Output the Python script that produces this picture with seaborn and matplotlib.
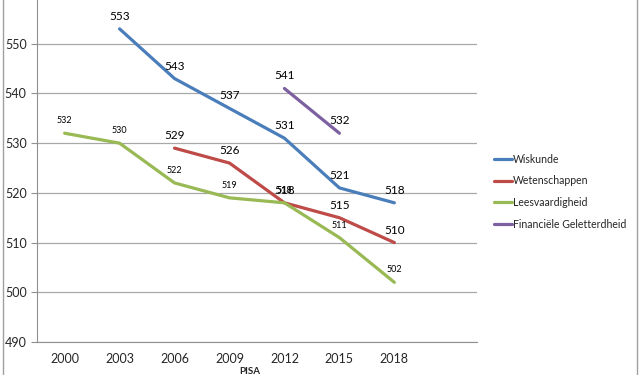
import pandas as pd
import matplotlib.pyplot as plt
import seaborn as sns
from matplotlib.patches import Rectangle

# PISA scores per domain (None = not measured)
years = ['2000', '2003', '2006', '2009', '2012', '2015', '2018']
wiskunde = [None, 553, 543, 537, 531, 521, 518]
wetenschappen = [None, None, 529, 526, 518, 515, 510]
leesvaardigheid = [532, 530, 522, 519, 518, 511, 502]
financieel = [None, None, None, None, 541, 532, None]

series = {
    'Wiskunde': wiskunde,
    'Wetenschappen': wetenschappen,
    'Leesvaardigheid': leesvaardigheid,
    'Financiële Geletterdheid': financieel,
}
colors = {
    'Wiskunde': '#4A7EBB',
    'Wetenschappen': '#BE4B48',
    'Leesvaardigheid': '#98B954',
    'Financiële Geletterdheid': '#7D60A0',
}
label_size = {'Wiskunde': 8.5, 'Wetenschappen': 8.5,
              'Leesvaardigheid': 6.5, 'Financiële Geletterdheid': 8.5}

rows = []
for name, vals in series.items():
    for i, v in enumerate(vals):
        if v is not None:
            rows.append({'pos': i, 'score': v, 'Vak': name})
df = pd.DataFrame(rows)

sns.set_style('white')
plt.rcParams['font.family'] = ['Lato', 'DejaVu Sans']

fig = plt.figure(figsize=(6.4, 3.75), dpi=100)
ax = fig.add_axes([0.058, 0.088, 0.687, 0.912])

sns.lineplot(data=df, x='pos', y='score', hue='Vak', palette=colors,
             linewidth=2.3, ax=ax, legend=True)

# data labels above the points
for name, vals in series.items():
    for i, v in enumerate(vals):
        if v is not None:
            ax.annotate(str(v), (i, v), xytext=(0, 9), textcoords='offset points',
                        ha='center', va='center', fontsize=label_size[name],
                        color='black')

ax.set_xlim(-0.5, 7.5)
ax.set_ylim(490, 558.8)
ax.set_yticks(range(490, 551, 10))
ax.yaxis.grid(True, color='#a8a8a8', linewidth=0.9)
ax.set_xticks(range(len(years)))
ax.set_xticklabels(years, fontsize=9)
ax.set_xticks([x - 0.5 for x in range(9)], minor=True)
ax.tick_params(axis='x', which='major', length=0, pad=8)
ax.tick_params(axis='x', which='minor', length=4, color='#909090', direction='out')
ax.tick_params(axis='y', length=4, color='#909090', direction='out', labelsize=9, left=True)
for s in ['top', 'right']:
    ax.spines[s].set_visible(False)
ax.spines['left'].set_color('#909090')
ax.spines['bottom'].set_color('#909090')
ax.set_xlabel('')
ax.set_ylabel('')

handles, labels = ax.get_legend_handles_labels()
ax.legend(handles, labels, loc='upper left', bbox_to_anchor=(0.757, 0.615),
          bbox_transform=fig.transFigure, frameon=False, fontsize=7.6,
          handlelength=1.7, handletextpad=0.1, labelspacing=1.0)

fig.text(0.39, 0.021, 'PISA', ha='center', va='top', fontsize=7, fontweight='bold')
fig.patches.append(Rectangle((3 / 640, -0.1), 634 / 640, 1.2, transform=fig.transFigure,
                             fill=False, edgecolor='#a0a0a0', linewidth=1))

fig.savefig('out.png', dpi=100)
